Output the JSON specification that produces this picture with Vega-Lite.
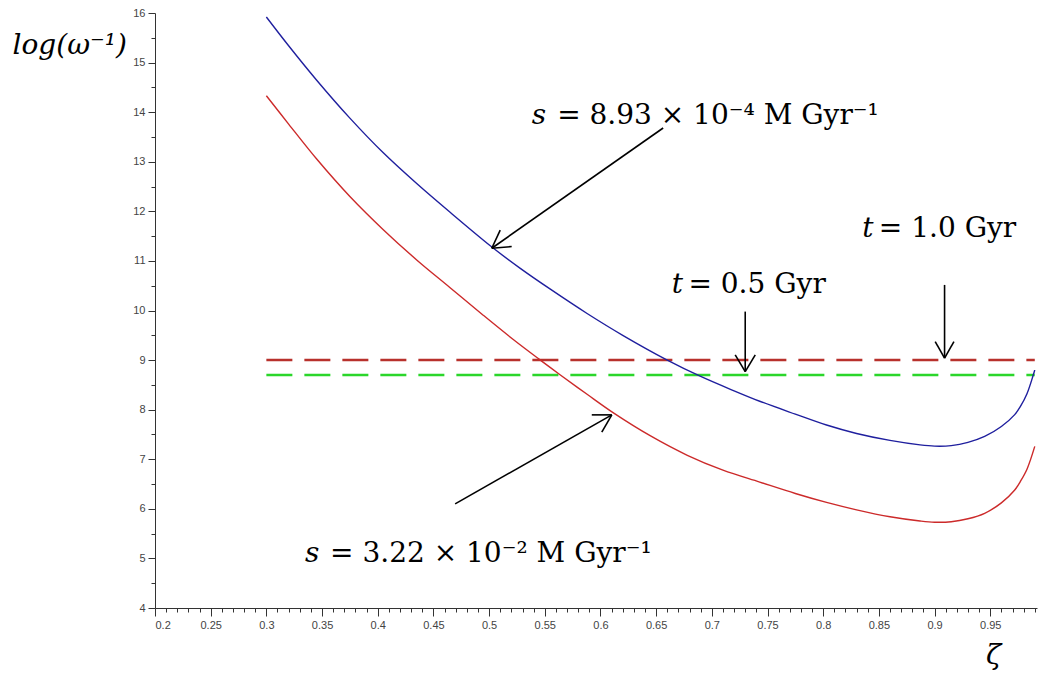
{
  "$schema": "https://vega.github.io/schema/vega-lite/v6.json",
  "width": 882,
  "height": 595,
  "autosize": {"type": "none"},
  "padding": {"left": 155, "top": 13, "right": 1, "bottom": 68},
  "background": "white",
  "config": {
    "view": {"stroke": null},
    "axis": {
      "grid": false,
      "domainColor": "#333333",
      "tickColor": "#333333",
      "labelColor": "#444444",
      "labelFont": "Liberation Sans",
      "labelFontSize": 11,
      "titleFont": "DejaVu Serif",
      "titleFontStyle": "italic",
      "titleFontWeight": "normal",
      "titleFontSize": 28,
      "titleColor": "black"
    }
  },
  "datasets": {
    "curves": [
      {"series": "s = 8.93e-4", "zeta": 0.300, "logw": 15.92},
      {"series": "s = 8.93e-4", "zeta": 0.320, "logw": 15.34},
      {"series": "s = 8.93e-4", "zeta": 0.345, "logw": 14.65},
      {"series": "s = 8.93e-4", "zeta": 0.375, "logw": 13.88},
      {"series": "s = 8.93e-4", "zeta": 0.405, "logw": 13.18},
      {"series": "s = 8.93e-4", "zeta": 0.435, "logw": 12.56},
      {"series": "s = 8.93e-4", "zeta": 0.465, "logw": 11.98},
      {"series": "s = 8.93e-4", "zeta": 0.5025, "logw": 11.28},
      {"series": "s = 8.93e-4", "zeta": 0.528, "logw": 10.85},
      {"series": "s = 8.93e-4", "zeta": 0.555, "logw": 10.43},
      {"series": "s = 8.93e-4", "zeta": 0.588, "logw": 9.94},
      {"series": "s = 8.93e-4", "zeta": 0.620, "logw": 9.50},
      {"series": "s = 8.93e-4", "zeta": 0.660, "logw": 9.00},
      {"series": "s = 8.93e-4", "zeta": 0.690, "logw": 8.67},
      {"series": "s = 8.93e-4", "zeta": 0.720, "logw": 8.38},
      {"series": "s = 8.93e-4", "zeta": 0.743, "logw": 8.17},
      {"series": "s = 8.93e-4", "zeta": 0.775, "logw": 7.91},
      {"series": "s = 8.93e-4", "zeta": 0.803, "logw": 7.69},
      {"series": "s = 8.93e-4", "zeta": 0.830, "logw": 7.52},
      {"series": "s = 8.93e-4", "zeta": 0.860, "logw": 7.38},
      {"series": "s = 8.93e-4", "zeta": 0.887, "logw": 7.29},
      {"series": "s = 8.93e-4", "zeta": 0.900, "logw": 7.265},
      {"series": "s = 8.93e-4", "zeta": 0.915, "logw": 7.275},
      {"series": "s = 8.93e-4", "zeta": 0.930, "logw": 7.34},
      {"series": "s = 8.93e-4", "zeta": 0.945, "logw": 7.46},
      {"series": "s = 8.93e-4", "zeta": 0.960, "logw": 7.66},
      {"series": "s = 8.93e-4", "zeta": 0.972, "logw": 7.90},
      {"series": "s = 8.93e-4", "zeta": 0.977, "logw": 8.06},
      {"series": "s = 8.93e-4", "zeta": 0.983, "logw": 8.32},
      {"series": "s = 8.93e-4", "zeta": 0.990, "logw": 8.80},
      {"series": "s = 3.22e-2", "zeta": 0.300, "logw": 14.33},
      {"series": "s = 3.22e-2", "zeta": 0.320, "logw": 13.76},
      {"series": "s = 3.22e-2", "zeta": 0.345, "logw": 13.06},
      {"series": "s = 3.22e-2", "zeta": 0.375, "logw": 12.30},
      {"series": "s = 3.22e-2", "zeta": 0.405, "logw": 11.63},
      {"series": "s = 3.22e-2", "zeta": 0.435, "logw": 11.02},
      {"series": "s = 3.22e-2", "zeta": 0.465, "logw": 10.46},
      {"series": "s = 3.22e-2", "zeta": 0.495, "logw": 9.90},
      {"series": "s = 3.22e-2", "zeta": 0.522, "logw": 9.41},
      {"series": "s = 3.22e-2", "zeta": 0.546, "logw": 9.00},
      {"series": "s = 3.22e-2", "zeta": 0.564, "logw": 8.70},
      {"series": "s = 3.22e-2", "zeta": 0.588, "logw": 8.31},
      {"series": "s = 3.22e-2", "zeta": 0.612, "logw": 7.93},
      {"series": "s = 3.22e-2", "zeta": 0.645, "logw": 7.47},
      {"series": "s = 3.22e-2", "zeta": 0.678, "logw": 7.08},
      {"series": "s = 3.22e-2", "zeta": 0.710, "logw": 6.78},
      {"series": "s = 3.22e-2", "zeta": 0.743, "logw": 6.54},
      {"series": "s = 3.22e-2", "zeta": 0.775, "logw": 6.31},
      {"series": "s = 3.22e-2", "zeta": 0.803, "logw": 6.13},
      {"series": "s = 3.22e-2", "zeta": 0.830, "logw": 5.98},
      {"series": "s = 3.22e-2", "zeta": 0.860, "logw": 5.84},
      {"series": "s = 3.22e-2", "zeta": 0.887, "logw": 5.755},
      {"series": "s = 3.22e-2", "zeta": 0.900, "logw": 5.73},
      {"series": "s = 3.22e-2", "zeta": 0.915, "logw": 5.74},
      {"series": "s = 3.22e-2", "zeta": 0.930, "logw": 5.80},
      {"series": "s = 3.22e-2", "zeta": 0.945, "logw": 5.91},
      {"series": "s = 3.22e-2", "zeta": 0.960, "logw": 6.12},
      {"series": "s = 3.22e-2", "zeta": 0.972, "logw": 6.38},
      {"series": "s = 3.22e-2", "zeta": 0.977, "logw": 6.55},
      {"series": "s = 3.22e-2", "zeta": 0.983, "logw": 6.80},
      {"series": "s = 3.22e-2", "zeta": 0.990, "logw": 7.26}
    ],
    "hlines": [
      {"time": "t = 1.0 Gyr", "zeta0": 0.3, "zeta1": 0.99, "logw": 9.0},
      {"time": "t = 0.5 Gyr", "zeta0": 0.3, "zeta1": 0.99, "logw": 8.7}
    ],
    "arrows": [
      {"arrow": 1, "x": 0.6563, "y": 13.681, "x2": 0.5024, "y2": 11.256},
      {"arrow": 1, "x": 0.5024, "y": 11.256, "x2": 0.5203, "y2": 11.290},
      {"arrow": 1, "x": 0.5024, "y": 11.256, "x2": 0.5100, "y2": 11.621},
      {"arrow": 2, "x": 0.4695, "y": 6.101, "x2": 0.6102, "y2": 7.895},
      {"arrow": 2, "x": 0.6102, "y": 7.895, "x2": 0.5922, "y2": 7.895},
      {"arrow": 2, "x": 0.6102, "y": 7.895, "x2": 0.6012, "y2": 7.546},
      {"arrow": 3, "x": 0.730, "y": 9.978, "x2": 0.730, "y2": 8.768},
      {"arrow": 3, "x": 0.730, "y": 8.768, "x2": 0.721, "y2": 9.105},
      {"arrow": 3, "x": 0.730, "y": 8.768, "x2": 0.739, "y2": 9.105},
      {"arrow": 4, "x": 0.909, "y": 10.516, "x2": 0.909, "y2": 9.038},
      {"arrow": 4, "x": 0.909, "y": 9.038, "x2": 0.9006, "y2": 9.373},
      {"arrow": 4, "x": 0.909, "y": 9.038, "x2": 0.9174, "y2": 9.373}
    ],
    "varlabels": [
      {"text": "s", "x": 0.5384, "y": 13.762},
      {"text": "s", "x": 0.3347, "y": 4.931},
      {"text": "t", "x": 0.6641, "y": 10.355},
      {"text": "t", "x": 0.835, "y": 11.484}
    ],
    "restlabels": [
      {"text": "= 8.93 × 10⁻⁴ M Gyr⁻¹", "x": 0.5611, "y": 13.762},
      {"text": "= 3.22 × 10⁻² M Gyr⁻¹", "x": 0.3572, "y": 4.931},
      {"text": "= 0.5 Gyr", "x": 0.679, "y": 10.355},
      {"text": "= 1.0 Gyr", "x": 0.850, "y": 11.484}
    ]
  },
  "layer": [
    {
      "data": {"name": "hlines"},
      "mark": {"type": "rule", "strokeWidth": 2.5, "strokeDash": [26, 12]},
      "encoding": {
        "x": {
          "field": "zeta0", "type": "quantitative",
          "scale": {"domain": [0.2, 0.992], "nice": false, "zero": false},
          "axis": {
            "orient": "bottom", "title": null, "labels": false, "domain": false,
            "tickSize": 4,
            "values": [0.21,0.22,0.23,0.24,0.26,0.27,0.28,0.29,0.31,0.32,0.33,0.34,0.36,0.37,0.38,0.39,0.41,0.42,0.43,0.44,0.46,0.47,0.48,0.49,0.51,0.52,0.53,0.54,0.56,0.57,0.58,0.59,0.61,0.62,0.63,0.64,0.66,0.67,0.68,0.69,0.71,0.72,0.73,0.74,0.76,0.77,0.78,0.79,0.81,0.82,0.83,0.84,0.86,0.87,0.88,0.89,0.91,0.92,0.93,0.94,0.96,0.97,0.98,0.99]
          }
        },
        "x2": {"field": "zeta1"},
        "y": {
          "field": "logw", "type": "quantitative",
          "scale": {"domain": [4, 16], "nice": false, "zero": false},
          "axis": {
            "orient": "left", "title": null, "labels": false, "domain": false,
            "tickSize": 4,
            "values": [4.5,5.5,6.5,7.5,8.5,9.5,10.5,11.5,12.5,13.5,14.5,15.5]
          }
        },
        "color": {
          "field": "time", "type": "nominal",
          "scale": {"domain": ["t = 1.0 Gyr", "t = 0.5 Gyr"], "range": ["#b8312c", "#2bd62b"]},
          "legend": null
        }
      }
    },
    {
      "data": {"name": "curves"},
      "mark": {"type": "line", "strokeWidth": 1.4, "interpolate": "catmull-rom"},
      "encoding": {
        "x": {
          "field": "zeta", "type": "quantitative",
          "axis": {
            "orient": "bottom",
            "title": "ζ",
            "titleX": 838, "titleY": 47, "titleAlign": "center", "titleBaseline": "middle",
            "values": [0.2,0.25,0.3,0.35,0.4,0.45,0.5,0.55,0.6,0.65,0.7,0.75,0.8,0.85,0.9,0.95],
            "format": ".2~f",
            "tickSize": 8, "labelPadding": 3
          }
        },
        "y": {
          "field": "logw", "type": "quantitative",
          "axis": {
            "orient": "left",
            "title": "log(ω⁻¹)",
            "titleAngle": 0, "titleX": -143, "titleY": 40, "titleAlign": "left", "titleBaseline": "alphabetic",
            "values": [4,5,6,7,8,9,10,11,12,13,14,15,16],
            "tickSize": 7, "labelPadding": 3
          }
        },
        "detail": {"field": "series"},
        "color": {"value": null},
        "stroke": {
          "field": "series", "type": "nominal",
          "scale": {"domain": ["s = 8.93e-4", "s = 3.22e-2"], "range": ["#1f1f9e", "#cc2a2a"]},
          "legend": null
        }
      }
    },
    {
      "mark": {"type": "rule", "color": "#333333", "strokeWidth": 1.2},
      "encoding": {"y": {"datum": 16, "type": "quantitative", "axis": null}}
    },
    {
      "data": {"name": "arrows"},
      "mark": {"type": "rule", "color": "black", "strokeWidth": 1.6},
      "encoding": {
        "x": {"field": "x", "type": "quantitative", "axis": null},
        "y": {"field": "y", "type": "quantitative", "axis": null},
        "x2": {"field": "x2"},
        "y2": {"field": "y2"},
        "detail": {"field": "arrow"}
      }
    },
    {
      "data": {"name": "varlabels"},
      "mark": {"type": "text", "font": "DejaVu Serif", "fontStyle": "italic", "fontSize": 28, "align": "left", "baseline": "alphabetic", "color": "black"},
      "encoding": {
        "x": {"field": "x", "type": "quantitative", "axis": null},
        "y": {"field": "y", "type": "quantitative", "axis": null},
        "text": {"field": "text"}
      }
    },
    {
      "data": {"name": "restlabels"},
      "mark": {"type": "text", "font": "DejaVu Serif", "fontSize": 28, "align": "left", "baseline": "alphabetic", "color": "black"},
      "encoding": {
        "x": {"field": "x", "type": "quantitative", "axis": null},
        "y": {"field": "y", "type": "quantitative", "axis": null},
        "text": {"field": "text"}
      }
    }
  ],
  "resolve": {"axis": {"x": "independent", "y": "independent"}}
}
